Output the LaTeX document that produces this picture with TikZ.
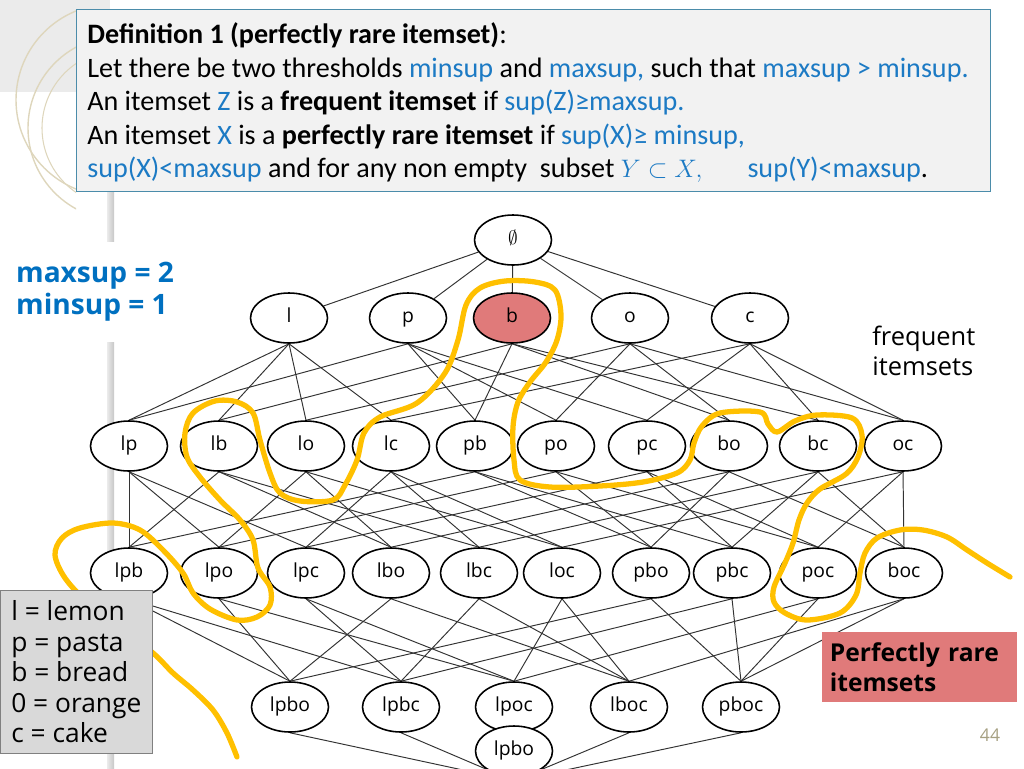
\documentclass[tikz,border=0pt]{standalone}
\usepackage{fontspec}
\setmainfont{Open Sans}
\newfontfamily\gillfont{Carlito}
\usetikzlibrary{shapes.geometric,backgrounds}
\definecolor{defblue}{RGB}{28,122,196}
\definecolor{parblue}{RGB}{0,112,192}
\definecolor{rarered}{RGB}{224,122,122}
\definecolor{hilite}{RGB}{255,192,0}
\definecolor{boxedge}{RGB}{75,140,170}
\definecolor{boxfill}{RGB}{242,242,242}
\definecolor{legendgray}{RGB}{217,217,217}
\definecolor{ringbeige}{RGB}{222,214,188}
\definecolor{pagenum}{RGB}{166,160,130}

\tikzset{
  set/.style={ellipse, draw, line width=0.9pt, fill=white, minimum width=1.54cm,
    minimum height=1cm, inner sep=0pt, text height=8.2pt, text depth=2.6pt,
    font=\fontsize{11}{13}\selectfont},
  rare/.style={set, fill=rarered},
  link/.style={black!80, line width=0.55pt},
  loop/.style={hilite, line width=3pt, line cap=round, line join=round},
  defline/.style={anchor=base west, inner sep=0pt, font=\gillfont\fontsize{16}{19}\selectfont},
}

\begin{document}
\begin{tikzpicture}[x=0.02cm, y=-0.02cm]
\useasboundingbox (0,0) rectangle (1024,768);

\fill[black!8] (0,0) rectangle (110,92);
\shade[left color=black!8, right color=black!22] (107,90) rectangle (114,768);
\begin{scope}
  \clip (0,0) rectangle (76,768);
  \draw[ringbeige, line width=0.8pt] (112,100) circle[radius=96];
  \draw[ringbeige, line width=0.8pt] (120,128) circle[radius=92];
  \draw[ringbeige, line width=0.6pt] (120,128) circle[radius=78];
\end{scope}

\node[draw=boxedge, fill=boxfill, line width=0.8pt, anchor=north west,
  minimum width=18.28cm, minimum height=3.64cm] (defbox) at (76,9) {};
\node[defline] (def1) at (87,43) {\textbf{Definition 1 (perfectly rare itemset)}:};
\node[defline] (def2) at (87,77) {Let there be two thresholds \textcolor{defblue}{minsup} and
  \textcolor{defblue}{maxsup,} such that \textcolor{defblue}{maxsup > minsup.}};
\node[defline] (def3) at (87,110) {An itemset \textcolor{defblue}{Z} is a \textbf{frequent itemset}
  if \textcolor{defblue}{sup(Z)≥maxsup.}};
\node[defline] (def4) at (87,144) {An itemset \textcolor{defblue}{X} is a \textbf{perfectly rare itemset}
  if \textcolor{defblue}{sup(X)≥ minsup,}};
\node[defline] (def5) at (87,177) {\textcolor{defblue}{sup(X)<maxsup} and for any non empty\ \ subset
  \textcolor{defblue}{\fontsize{13.5}{16}\selectfont$Y\subset X,$}\hspace{1.6em}\textcolor{defblue}{sup(Y)<maxsup}.};

\node[set] (empty) at (513,240) {$\emptyset$};
\foreach \n/\x/\s in {l/289/set, p/408/set, b/512/rare, o/630/set, c/750/set}
  \node[\s] (\n) at (\x,318) {\n};
\foreach \n/\x in {lp/129, lb/219, lo/306, lc/391, pb/475, po/556, pc/647, bo/729, bc/818, oc/903}
  \node[set] (\n) at (\x,446) {\n};
\foreach \n/\x in {lpb/129, lpo/219, lpc/306, lbo/391, lbc/479, loc/562, pbo/651, pbc/732, poc/818, boc/904}
  \node[set] (\n) at (\x,573) {\n};
\foreach \n/\x in {lpbo/290, lpbc/401, lpoc/514, lboc/629, pboc/741}
  \node[set] (\n) at (\x,707) {\n};
\coordinate (meet) at (514,781);
\node[set] (all) at (514,751) {lpbo};

\begin{scope}[on background layer]
  \foreach \n in {l,p,b,o,c}
    \draw[link] (empty) -- (\n);
  \foreach \n/\ps in {lp/{l,p}, lb/{l,b}, lo/{l,o}, lc/{l,c}, pb/{p,b}, po/{p,o}, pc/{p,c},
      bo/{b,o}, bc/{b,c}, oc/{o,c},
      lpb/{lp,lb,pb}, lpo/{lp,lo,po}, lpc/{lp,lc,pc}, lbo/{lb,lo,bo}, lbc/{lb,lc,bc},
      loc/{lo,lc,oc}, pbo/{pb,po,bo}, pbc/{pb,pc,bc}, poc/{po,pc,oc}, boc/{bo,bc,oc},
      lpbo/{lpb,lpo,lbo,pbo}, lpbc/{lpb,lpc,lbc,pbc}, lpoc/{lpo,lpc,loc,poc},
      lboc/{lbo,lbc,loc,boc}, pboc/{pbo,pbc,poc,boc}}
    \foreach \q in \ps
      \draw[link] (\q.south) -- (\n.north);
  \foreach \q in {lpbo,lpbc,lpoc,lboc,pboc}
    \draw[link] (\q.south) -- (meet);
\end{scope}

\draw[loop] plot[smooth, tension=0.55] coordinates {
  (237,757) (227,733) (213,710) (193,690) (173,673) (153,653) (120,628) (88,603)
  (65,578) (55,555) (62,538) (80,528) (113,523) (140,530) (163,550) (183,573)
  (193,593) (210,609) (237,620) (257,617) (270,605) (270,587) (258,568) (253,540)
  (240,520) (220,500) (200,477) (187,457) (185,433) (193,413) (215,401) (237,402)
  (253,413) (260,440) (270,473) (280,493) (300,501) (333,500) (345,485) (357,460)
  (364,433) (380,417) (417,403) (445,373) (458,340) (466,305) (480,288) (505,281)
  (535,282) (555,290) (561,315) (557,340) (546,362) (530,382) (518,402) (513,427)
  (514,460) (520,480) (550,487) (600,486) (643,482) (677,473) (690,460) (694,443)
  (702,426) (720,413) (760,412) (768,424) (777,432) (795,421) (817,415) (852,418)
  (862,435) (858,457) (846,474) (820,489) (807,503) (799,520) (793,543) (785,563)
  (774,587) (774,602) (785,613) (807,620) (840,613) (856,595) (860,573) (865,553)
  (877,538) (900,530) (923,530) (947,537) (967,550) (987,563) (1010,577)};

\node[anchor=west, fill=white, minimum height=2cm, align=left, inner xsep=9pt,
  text=parblue, font=\bfseries\fontsize{16}{18}\selectfont] (params) at (0,292)
  {maxsup = 2\\minsup = 1};
\node[anchor=north west, align=left, inner sep=0pt, font=\fontsize{14.5}{17}\selectfont]
  (freq) at (872,326) {frequent\\itemsets};
\node[fill=rarered, anchor=north west, minimum width=3.9cm, minimum height=1.4cm,
  inner xsep=0.15cm, text width=3.6cm, align=left, font=\bfseries\fontsize{14}{17}\selectfont]
  (rarebox) at (822,632) {Perfectly rare\\itemsets};
\node[draw=black!50, fill=legendgray, anchor=north west, minimum width=3.04cm,
  minimum height=3.26cm, align=left, font=\fontsize{15}{17.4}\selectfont]
  (legend) at (0,590) {l = lemon\\p = pasta\\b = bread\\0 = orange\\c = cake};
\node[text=pagenum, font=\fontsize{10}{12}\selectfont] (pageno) at (990,735) {44};
\end{tikzpicture}
\end{document}
